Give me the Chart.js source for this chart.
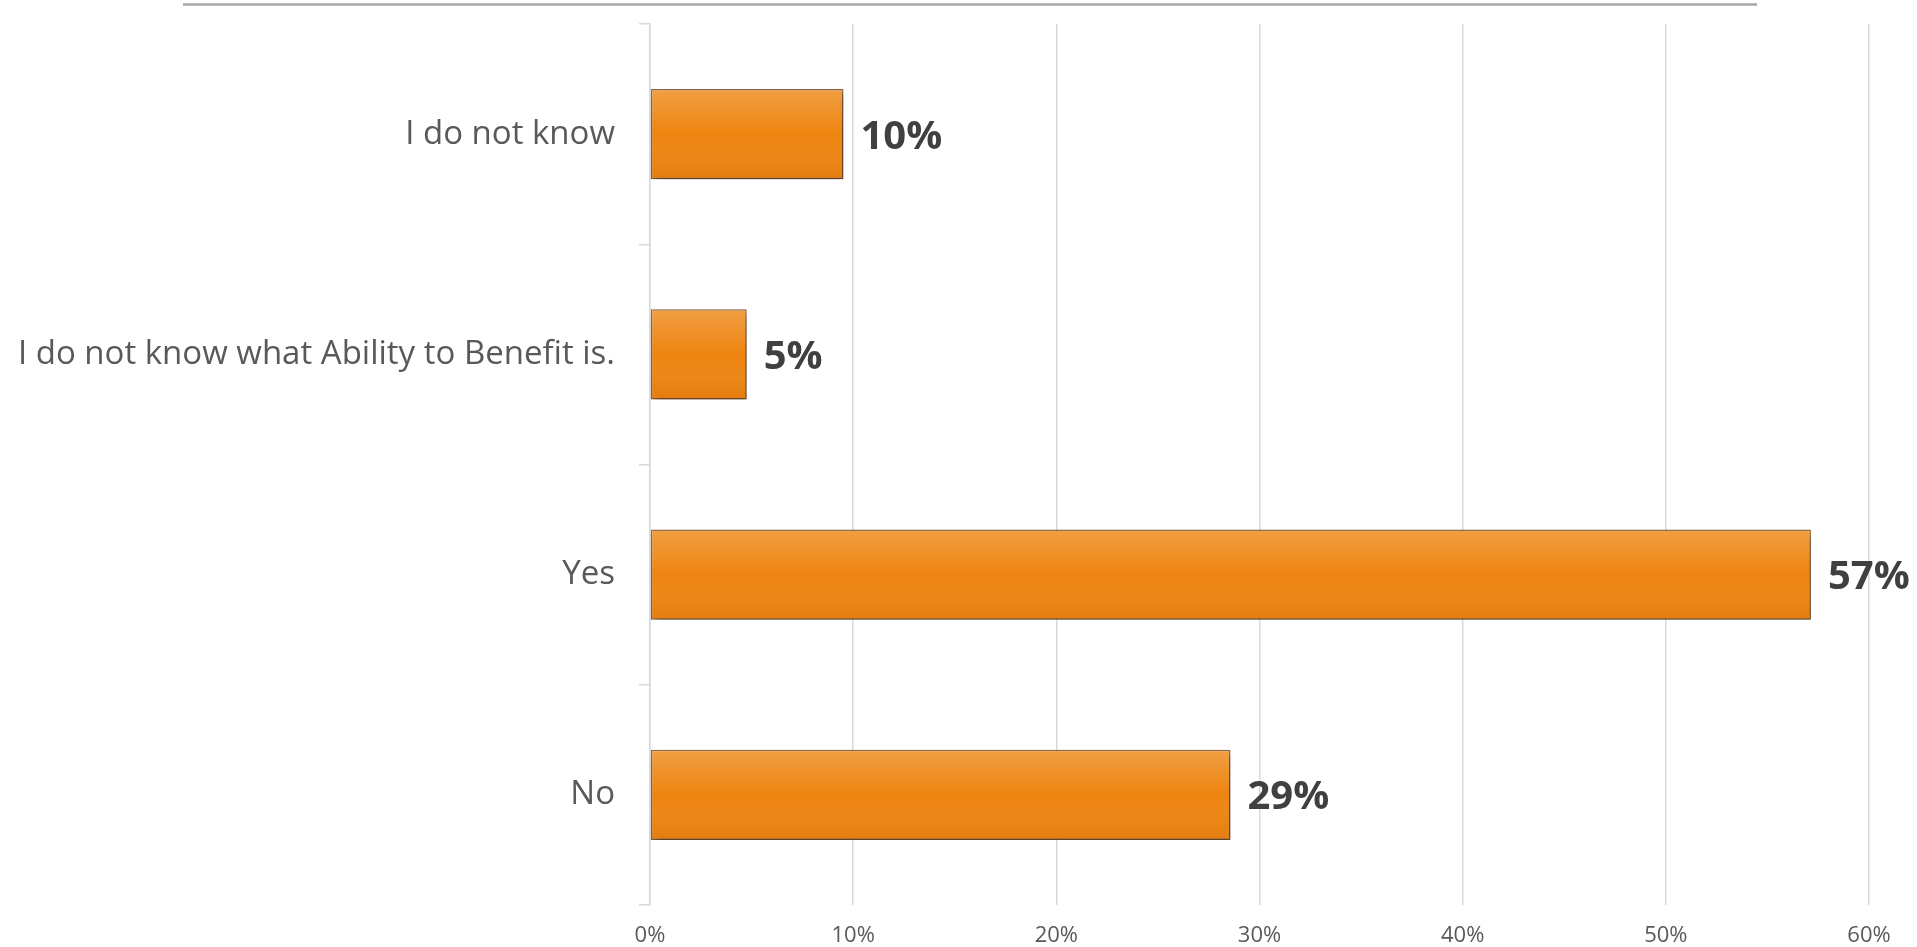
<!DOCTYPE html>
<html>
<head>
<meta charset="utf-8">
<script src="https://cdn.jsdelivr.net/npm/chart.js@4/dist/chart.umd.min.js"></script>
<style>
  html, body { margin: 0; padding: 0; background: #fff; }
  #wrap { width: 1917px; height: 947px; position: relative; }
</style>
</head>
<body>
<div id="wrap"><canvas id="chartAbility"></canvas></div>
<script>
// answers, top to bottom
const categorias = ['I do not know', 'I do not know what Ability to Benefit is.', 'Yes', 'No']
const porcentajes = [9.52, 4.76, 57.14, 28.57]
const ticksX = [0, 10, 20, 30, 40, 50, 60]

const canvas = document.getElementById('chartAbility')
const context = canvas.getContext('2d')

// thin rule across the top of the slide
const lineaSuperior = {
    id: 'lineaSuperior',
    beforeDraw(chart) {
        const ctx = chart.ctx
        ctx.save()
        ctx.strokeStyle = '#a6a6a6'
        ctx.lineWidth = 2.5
        ctx.beginPath()
        ctx.moveTo(183, 4.5)
        ctx.lineTo(1757, 4.5)
        ctx.stroke()
        ctx.restore()
    }
}

// drop shadow behind the bars + soft vertical gradient on top of them
const sombraBarras = {
    id: 'sombraBarras',
    beforeDatasetsDraw(chart) {
        const ctx = chart.ctx
        ctx.save()
        ctx.shadowColor = 'rgba(0,0,0,0.4)'
        ctx.shadowBlur = 7
        ctx.shadowOffsetX = 3
        ctx.shadowOffsetY = 4
    },
    afterDatasetsDraw(chart) {
        const ctx = chart.ctx
        ctx.restore()
        const meta = chart.getDatasetMeta(0)
        meta.data.forEach(bar => {
            const top = bar.y - bar.height / 2
            const grad = ctx.createLinearGradient(0, top, 0, top + bar.height)
            grad.addColorStop(0, 'rgba(255,255,255,0.22)')
            grad.addColorStop(0.5, 'rgba(255,255,255,0)')
            grad.addColorStop(1, 'rgba(170,70,0,0.15)')
            ctx.save()
            ctx.fillStyle = grad
            ctx.fillRect(bar.base + 1, top + 1, bar.x - bar.base - 2, bar.height - 2)
            ctx.restore()
        })
    }
}

// bold value labels to the right of each bar
const etiquetas = {
    id: 'etiquetas',
    afterDatasetsDraw(chart) {
        const ctx = chart.ctx
        const meta = chart.getDatasetMeta(0)
        ctx.save()
        ctx.font = 'bold 40px "Open Sans"'
        ctx.fillStyle = '#404040'
        ctx.textBaseline = 'middle'
        ctx.textAlign = 'left'
        meta.data.forEach((bar, i) => {
            ctx.fillText(Math.round(porcentajes[i]) + '%', bar.x + 17, bar.y + 3)
        })
        ctx.restore()
    }
}

const chartAbility = new Chart(context, {
    type: 'bar',
    data: {
        labels: categorias,
        datasets: [
            {
                label: 'Respuestas',
                data: porcentajes,
                backgroundColor: '#ee8410',
                borderColor: 'rgba(125,70,25,0.85)',
                borderWidth: 1.5,
                borderSkipped: false,
                barPercentage: 0.41,
                categoryPercentage: 1
            }
        ]
    },
    options: {
        indexAxis: 'y',
        responsive: true,
        maintainAspectRatio: false,
        animation: false,
        layout: { padding: { top: 24, right: 48, left: 0, bottom: 0 } },
        plugins: {
            legend: { display: false },
            tooltip: { enabled: false }
        },
        scales: {
            x: {
                min: 0,
                max: 60,
                afterBuildTicks: scale => { scale.ticks = ticksX.map(v => ({ value: v })) },
                afterFit: scale => { scale.height = 42 },
                grid: { color: '#d9d9d9', lineWidth: 1.5, drawTicks: false },
                border: { display: false },
                ticks: {
                    color: '#595959',
                    font: { family: '"Open Sans"', size: 22 },
                    padding: 18,
                    callback: v => v + '%'
                }
            },
            y: {
                afterFit: scale => {
                    scale.width = 650
                    scale.paddingTop = 0
                    scale.paddingBottom = 0
                },
                grid: { drawOnChartArea: false, color: '#d9d9d9', lineWidth: 1.5, tickLength: 11, offset: true },
                border: { color: '#d9d9d9', width: 1.5 },
                ticks: {
                    color: '#595959',
                    font: { family: '"Open Sans"', size: 33 },
                    padding: 24
                }
            }
        }
    },
    plugins: [lineaSuperior, sombraBarras, etiquetas]
})
</script>
</body>
</html>
